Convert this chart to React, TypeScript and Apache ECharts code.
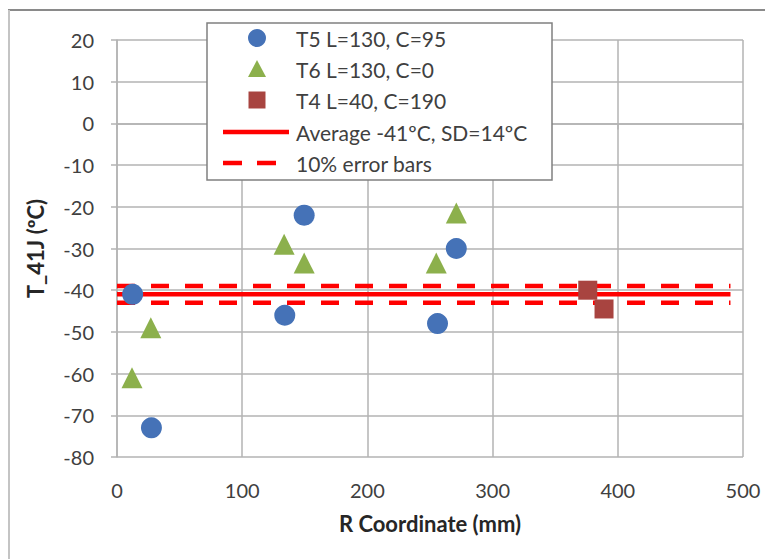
import React, { useEffect, useRef } from "react";
import * as echarts from "echarts";

const xTicks = [0, 100, 200, 300, 400, 500];
const yTicks = [20, 10, 0, -10, -20, -30, -40, -50, -60, -70, -80];
const seriesNames = [
  "T5 L=130, C=95",
  "T6 L=130, C=0",
  "T4 L=40, C=190",
  "Average -41ºC, SD=14ºC",
  "10% error bars",
];
const t5Data = [[12.5, -41], [27.5, -73], [134, -46], [149.5, -22], [256, -48], [271, -30]];
const t6Data = [[12, -61], [27, -49], [133.5, -29], [149.5, -33.5], [255, -33.5], [271, -21.5]];
const t4Data = [[376, -40], [389, -44.5]];
const averageLine = [[0, -41], [490, -41]];
const errorUpper = [[0, -39], [490, -39]];
const errorLower = [[0, -43], [490, -43]];

const xTitle = "R Coordinate (mm)";
const yTitle = "T_41J (ºC)";

const FONT = "Lato, 'Open Sans', sans-serif";
const BLUE = "#4572B7";
const GREEN = "#8CB04C";
const BROWN = "#A84440";
const RED = "#FF0000";
const GRID = "#b3b3b3";
const TEXT = "#404040";

export default function App() {
  const ref = useRef<HTMLDivElement>(null);
  useEffect(() => {
    if (!ref.current) return;
    const chart = echarts.init(ref.current, null, { renderer: "svg" });

    const lx = 207, ly = 23, lw = 345, lh = 157;
    const rowY = [38, 69, 100, 132, 163];
    const mx = 257;
    const tx = 296;
    const legendTexts = seriesNames.map((n, i) => ({
      type: "text",
      z: 102,
      style: {
        x: tx,
        y: rowY[i],
        text: n,
        fill: TEXT,
        font: `21px ${FONT}`,
        verticalAlign: "middle",
        align: "left",
      },
    }));

    const option: any = {
      animation: false,
      backgroundColor: "#ffffff",
      grid: { left: 117, right: 22, top: 40, bottom: 102 },
      xAxis: {
        type: "value",
        min: xTicks[0],
        max: xTicks[xTicks.length - 1],
        interval: 100,
        axisLine: { show: true, lineStyle: { color: GRID, width: 1.5 } },
        axisTick: { show: true, length: 6, lineStyle: { color: GRID, width: 1.5 } },
        splitLine: { show: true, lineStyle: { color: GRID, width: 1.5 } },
        axisLabel: { color: TEXT, fontSize: 20, fontFamily: FONT, margin: 23 },
        name: xTitle,
        nameLocation: "middle",
        nameGap: 55,
        nameTextStyle: { color: "#262626", fontSize: 22, fontWeight: "bold", fontFamily: FONT },
      },
      yAxis: {
        type: "value",
        min: yTicks[yTicks.length - 1],
        max: yTicks[0],
        interval: 10,
        axisLine: { show: true, lineStyle: { color: GRID, width: 1.5 } },
        axisTick: { show: true, length: 6, lineStyle: { color: GRID, width: 1.5 } },
        splitLine: { show: true, lineStyle: { color: GRID, width: 1.5 } },
        axisLabel: { color: TEXT, fontSize: 20, fontFamily: FONT, margin: 23 },
        name: yTitle,
        nameLocation: "middle",
        nameGap: 71,
        nameTextStyle: { color: "#262626", fontSize: 22, fontWeight: "bold", fontFamily: FONT },
      },
      series: [
        {
          name: seriesNames[3],
          type: "line",
          data: averageLine,
          symbol: "none",
          lineStyle: { color: RED, width: 4.5 },
          z: 2,
        },
        {
          name: seriesNames[4],
          type: "line",
          data: errorUpper,
          symbol: "none",
          lineStyle: { color: RED, width: 4.5, type: [18, 16] },
          z: 2,
        },
        {
          name: seriesNames[4],
          type: "line",
          data: errorLower,
          symbol: "none",
          lineStyle: { color: RED, width: 4.5, type: [18, 16] },
          z: 2,
        },
        {
          name: seriesNames[0],
          type: "scatter",
          data: t5Data,
          symbol: "circle",
          symbolSize: 21,
          itemStyle: { color: BLUE, opacity: 1 },
          z: 5,
        },
        {
          name: seriesNames[1],
          type: "scatter",
          data: t6Data,
          symbol: "triangle",
          symbolSize: 21,
          itemStyle: { color: GREEN, opacity: 1 },
          z: 5,
        },
        {
          name: seriesNames[2],
          type: "scatter",
          data: t4Data,
          symbol: "rect",
          symbolSize: 19,
          itemStyle: { color: BROWN, opacity: 1 },
          z: 5,
        },
      ],
      graphic: [
        { type: "line", z: 100, shape: { x1: 8, y1: 10, x2: 765, y2: 10 }, style: { stroke: "#8a8a8a", lineWidth: 2 } },
        { type: "line", z: 100, shape: { x1: 9, y1: 10, x2: 9, y2: 559 }, style: { stroke: "#c4c4c4", lineWidth: 2 } },
        {
          type: "rect",
          z: 100,
          shape: { x: lx, y: ly, width: lw, height: lh },
          style: { fill: "#ffffff", stroke: "#808080", lineWidth: 1.5 },
        },
        { type: "circle", z: 101, shape: { cx: mx, cy: rowY[0], r: 9 }, style: { fill: BLUE } },
        {
          type: "polygon",
          z: 101,
          shape: { points: [[mx, rowY[1] - 9], [mx + 9, rowY[1] + 8], [mx - 9, rowY[1] + 8]] },
          style: { fill: GREEN },
        },
        { type: "rect", z: 101, shape: { x: mx - 8.5, y: rowY[2] - 8.5, width: 17, height: 17 }, style: { fill: BROWN } },
        { type: "line", z: 101, shape: { x1: 223, y1: rowY[3], x2: 289, y2: rowY[3] }, style: { stroke: RED, lineWidth: 4.5 } },
        {
          type: "line",
          z: 101,
          shape: { x1: 223, y1: rowY[4], x2: 276, y2: rowY[4] },
          style: { stroke: RED, lineWidth: 4.5, lineDash: [19, 15] },
        },
        ...legendTexts,
      ],
    };
    chart.setOption(option);
    return () => chart.dispose();
  }, []);
  return (
    <div
      ref={ref}
      style={{ position: "fixed", left: 0, top: 0, width: 765, height: 559, background: "#fff" }}
    />
  );
}
